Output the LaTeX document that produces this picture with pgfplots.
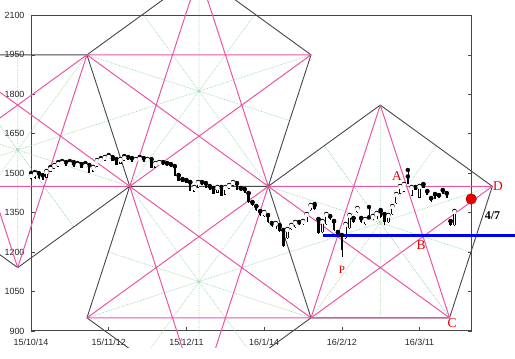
\documentclass[border=0pt]{standalone}
\usepackage{fontspec}
\setmainfont{Liberation Serif}
\setsansfont{Liberation Sans}
\usepackage{pgfplots}
\usepackage{pgfplotstable}
\pgfplotsset{compat=1.18}
\definecolor{pk}{RGB}{236,84,164}
\definecolor{dk}{RGB}{70,70,70}
\definecolor{dg}{RGB}{150,215,165}
\definecolor{rd}{RGB}{232,0,0}
\pgfplotstableread{
i O H L C
0 1481.8 1500.8 1474.2 1489.4
1 1485.6 1504.6 1478.0 1497.0
2 1497.0 1500.8 1478.0 1485.6
3 1489.4 1493.2 1474.2 1478.0
4 1485.6 1508.4 1481.8 1504.6
5 1508.4 1523.6 1504.6 1516.0
6 1519.8 1531.2 1516.0 1527.4
7 1527.4 1542.6 1523.6 1535.0
8 1535.0 1546.4 1531.2 1538.8
9 1538.8 1542.6 1527.4 1531.2
10 1531.2 1546.4 1527.4 1535.0
11 1535.0 1542.6 1523.6 1527.4
12 1527.4 1538.8 1523.6 1531.2
13 1531.2 1535.0 1519.8 1523.6
14 1523.6 1538.8 1519.8 1527.4
15 1527.4 1531.2 1500.8 1504.6
16 1508.4 1523.6 1504.6 1519.8
17 1527.4 1550.2 1523.6 1546.4
18 1546.4 1557.8 1542.6 1550.2
19 1550.2 1561.6 1546.4 1557.8
20 1557.8 1569.2 1554.0 1561.6
21 1557.8 1561.6 1546.4 1550.2
22 1550.2 1554.0 1531.2 1535.0
23 1538.8 1554.0 1535.0 1550.2
24 1550.2 1565.4 1546.4 1557.8
25 1557.8 1561.6 1550.2 1554.0
26 1554.0 1557.8 1542.6 1546.4
27 1546.4 1554.0 1542.6 1550.2
28 1550.2 1561.6 1546.4 1554.0
29 1554.0 1557.8 1542.6 1546.4
30 1546.4 1554.0 1542.6 1550.2
31 1550.2 1554.0 1519.8 1523.6
32 1523.6 1538.8 1519.8 1535.0
33 1535.0 1542.6 1531.2 1538.8
34 1538.8 1542.6 1531.2 1535.0
35 1535.0 1538.8 1527.4 1531.2
36 1531.2 1535.0 1523.6 1527.4
37 1523.6 1527.4 1489.4 1493.2
38 1489.4 1493.2 1470.4 1474.2
39 1474.2 1478.0 1466.6 1470.4
40 1470.4 1474.2 1462.8 1466.6
41 1462.8 1466.6 1432.4 1436.2
42 1432.4 1447.6 1428.6 1443.8
43 1447.6 1466.6 1443.8 1462.8
44 1462.8 1466.6 1455.2 1459.0
45 1459.0 1462.8 1443.8 1447.6
46 1447.6 1451.4 1436.2 1440.0
47 1440.0 1443.8 1421.0 1424.8
48 1428.6 1447.6 1424.8 1443.8
49 1443.8 1447.6 1413.4 1417.2
50 1421.0 1447.6 1417.2 1443.8
51 1443.8 1455.2 1440.0 1451.4
52 1455.2 1466.6 1451.4 1462.8
53 1459.0 1462.8 1436.2 1440.0
54 1440.0 1443.8 1432.4 1436.2
55 1436.2 1440.0 1424.8 1428.6
56 1421.0 1424.8 1386.8 1390.6
57 1386.8 1390.6 1375.4 1379.2
58 1371.6 1375.4 1356.4 1360.2
59 1352.6 1356.4 1337.4 1341.2
60 1337.4 1352.6 1333.6 1348.8
61 1337.4 1341.2 1310.8 1314.6
62 1307.0 1310.8 1295.6 1299.4
63 1291.8 1310.8 1288.0 1307.0
64 1299.4 1303.2 1276.6 1280.4
65 1280.4 1284.2 1219.6 1223.4
66 1253.8 1288.0 1250.0 1284.2
67 1288.0 1303.2 1284.2 1299.4
68 1295.6 1314.6 1291.8 1310.8
69 1310.8 1314.6 1303.2 1307.0
70 1307.0 1318.4 1303.2 1314.6
71 1318.4 1345.0 1314.6 1341.2
72 1360.2 1379.2 1356.4 1375.4
73 1375.4 1383.0 1360.2 1364.0
74 1322.2 1326.0 1269.0 1272.8
75 1276.6 1318.4 1272.8 1314.6
76 1307.0 1345.0 1303.2 1341.2
77 1333.6 1337.4 1322.2 1326.0
78 1314.6 1318.4 1280.4 1284.2
79 1272.8 1276.6 1261.4 1265.2
80 1261.4 1265.2 1181.6 1208.2
81 1253.8 1307.0 1250.0 1303.2
82 1291.8 1341.2 1288.0 1337.4
83 1326.0 1329.8 1310.8 1314.6
84 1352.6 1367.8 1348.8 1364.0
85 1326.0 1329.8 1310.8 1314.6
86 1307.0 1326.0 1303.2 1322.2
87 1330.0 1371.6 1326.0 1328.0
88 1326.0 1337.4 1322.2 1333.6
89 1329.8 1348.8 1326.0 1345.0
90 1352.6 1360.2 1329.8 1333.6
91 1341.2 1345.0 1303.2 1314.6
92 1314.6 1341.2 1310.8 1337.4
93 1345.0 1375.4 1341.2 1371.6
94 1386.8 1421.0 1383.0 1417.2
95 1424.8 1451.4 1421.0 1447.6
96 1432.4 1459.0 1428.6 1455.2
97 1485.6 1512.2 1459.0 1462.8
98 1417.2 1447.6 1413.4 1443.8
99 1443.8 1447.6 1436.2 1440.0
100 1409.6 1451.4 1405.8 1447.6
101 1455.2 1459.0 1443.8 1447.6
102 1428.6 1432.4 1417.2 1421.0
103 1402.0 1405.8 1390.6 1394.4
104 1417.2 1421.0 1402.0 1405.8
105 1413.4 1417.2 1405.8 1409.6
106 1432.4 1436.2 1421.0 1424.8
107 1421.0 1424.8 1405.8 1409.6
108 1314.6 1318.4 1299.4 1303.2
109 1303.2 1356.4 1299.4 1352.6
}\candles
\begin{document}
\begin{tikzpicture}
\useasboundingbox (0,0) rectangle (515bp,359bp);
\clip (0,11bp) rectangle (515bp,359bp);
\begin{axis}[
  at={(31bp,28bp)}, anchor=south west,
  x=3.885bp, y=0.263bp,
  xmin=0, xmax=113.43, ymin=900, ymax=2100,
  clip=false,
  axis line style={dk, line width=1bp},
  xtick={0,20,40,60,80,100},
  xticklabels={15/10/14,15/11/12,15/12/11,16/1/14,16/2/12,16/3/11},
  ytick={900,1050,...,2100},
  xtick pos=left, ytick pos=both,
  tick align=inside, major tick length=4bp,
  tick style={dk, line width=0.6bp},
  ticklabel style={font=\sffamily\fontsize{9}{10}\selectfont, text=black!85},
  /pgf/number format/assume math mode=true,
  /pgf/number format/1000 sep={},
  yticklabel style={xshift=-3bp},
  xticklabel style={yshift=-4bp},
  unbounded coords=jump,
]
% dotted symmetry axes
\addplot[dg, densely dotted, line width=0.7bp] coordinates {
(43.24,2259) (43.24,1450) (nan,nan)
(72.08,1950) (19.908,1700) (nan,nan)
(61.065,1450) (28.82,2104.5) (nan,nan)
(25.415,1450) (57.66,2104.5) (nan,nan)
(14.40,1950) (66.573,1700) (nan,nan)
(43.24,641) (43.24,1450) (nan,nan)
(72.08,950) (19.908,1200) (nan,nan)
(61.065,1450) (28.82,795.5) (nan,nan)
(25.415,1450) (57.66,795.5) (nan,nan)
(14.40,950) (66.573,1200) (nan,nan)
(89.905,1759) (89.905,950) (nan,nan)
(118.745,1450) (66.573,1200) (nan,nan)
(107.73,950) (75.485,1604.5) (nan,nan)
(72.08,950) (104.325,1604.5) (nan,nan)
(61.065,1450) (113.238,1200) (nan,nan)
(-3.425,1141) (-3.425,1950) (nan,nan)
(25.415,1450) (-26.757,1700) (nan,nan)
(14.40,1950) (-17.845,1295.5) (nan,nan)
(-21.25,1950) (10.995,1295.5) (nan,nan)
(-32.265,1450) (19.908,1700)
};
% pentagon edges
\addplot[dk, line width=0.9bp, line join=round] coordinates {
(43.24,2259) (72.08,1950) (61.065,1450) (25.415,1450) (14.40,1950) (43.24,2259) (nan,nan)
(25.415,1450) (61.065,1450) (72.08,950) (43.24,641) (14.40,950) (25.415,1450) (nan,nan)
(-21.25,1950) (14.40,1950) (25.415,1450) (-3.425,1141) (-32.265,1450) (-21.25,1950) (nan,nan)
(89.905,1759) (118.745,1450) (107.73,950) (72.08,950) (61.065,1450) (89.905,1759)
};
% pentagrams
\addplot[pk, line width=1bp, line join=round] coordinates {
(43.24,2259) (25.415,1450) (72.08,1950) (14.40,1950) (61.065,1450) (43.24,2259) (nan,nan)
(25.415,1450) (43.24,641) (61.065,1450) (14.40,950) (72.08,950) (25.415,1450) (nan,nan)
(-21.25,1950) (-3.425,1141) (14.40,1950) (-32.265,1450) (25.415,1450) (-21.25,1950) (nan,nan)
(89.905,1759) (72.08,950) (118.745,1450) (61.065,1450) (107.73,950) (89.905,1759) (nan,nan)
(72.08,950) (107.73,950)
};
% candle wicks
\addplot[only marks, mark=none, black, error bars/.cd, y dir=minus, y explicit,
  error mark=none, error bar style={black, line width=0.5bp}]
  table[x=i, y=H, y error minus expr={\thisrow{H}-\thisrow{L}}] {\candles};
% candle bodies (outline / filled)
\addplot[only marks, mark=none, black, error bars/.cd, y dir=minus, y explicit,
  error mark=none, error bar style={black, line width=2.3bp}]
  table[x=i, y expr={max(\thisrow{O},\thisrow{C})+2}, y error minus expr={abs(\thisrow{O}-\thisrow{C})+4}] {\candles};
% hollow interiors of rising candles
\addplot[only marks, mark=none, white, restrict expr to domain={\thisrow{C}-\thisrow{O}}{2:10000},
  error bars/.cd, y dir=minus, y explicit,
  error mark=none, error bar style={white, line width=1.1bp}]
  table[x=i, y expr={max(\thisrow{O},\thisrow{C})}, y error minus expr={abs(\thisrow{O}-\thisrow{C})}] {\candles};
% blue level line
\addplot[color={rgb,255:red,0;green,0;blue,240}, line width=3bp] coordinates {(75.16,1262) (124.6,1262)};
% red point
\addplot[only marks, mark=*, mark size=5.3bp, mark options={fill=rd, draw=rd!70!black, line width=0.4bp}] coordinates {(113.3,1402)};
% labels
\node[text=rd, font=\fontsize{13.5}{14}\selectfont] at (axis cs:94.2,1488) {A};
\node[text=rd, font=\fontsize{13.5}{14}\selectfont] at (axis cs:100.4,1228) {B};
\node[text=rd, font=\fontsize{13.5}{14}\selectfont] at (axis cs:108.4,930) {C};
\node[text=rd, font=\fontsize{13.5}{14}\selectfont] at (axis cs:120.2,1451) {D};
\node[text=rd, font=\fontsize{11}{12}\selectfont] at (axis cs:80.05,1134) {P};
\node[text=black, font=\bfseries\fontsize{12}{13}\selectfont] at (axis cs:118.8,1338) {4/7};
\end{axis}
\end{tikzpicture}
\end{document}
